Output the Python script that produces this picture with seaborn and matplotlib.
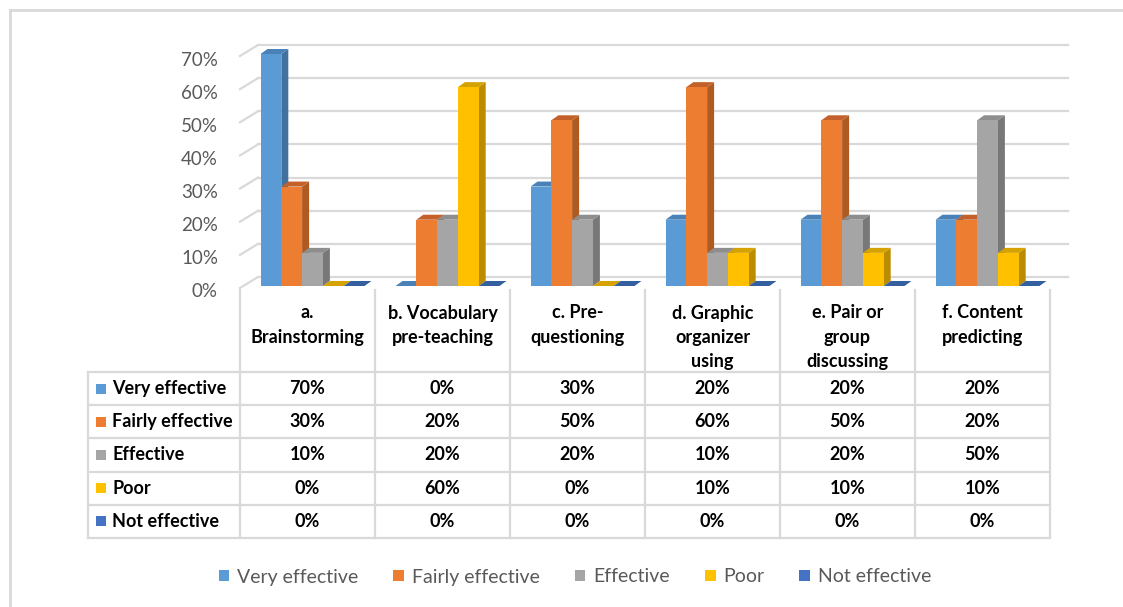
import numpy as np
import pandas as pd
import matplotlib
matplotlib.use("Agg")
import matplotlib.pyplot as plt
import seaborn as sns
from matplotlib.lines import Line2D
from matplotlib.patches import Polygon, Rectangle, Patch
from matplotlib.transforms import ScaledTranslation, IdentityTransform

# ---------------- data ----------------
categories = ["a.\nBrainstorming", "b. Vocabulary\npre-teaching", "c. Pre-\nquestioning",
              "d. Graphic\norganizer\nusing", "e. Pair or\ngroup\ndiscussing",
              "f. Content\npredicting"]
series = ["Very effective", "Fairly effective", "Effective", "Poor", "Not effective"]
very_effective = [70, 0, 30, 20, 20, 20]
fairly_effective = [30, 20, 50, 60, 50, 20]
effective = [10, 20, 20, 10, 20, 50]
poor = [0, 60, 0, 10, 10, 10]
not_effective = [0, 0, 0, 0, 0, 0]
y_ticks = [0, 10, 20, 30, 40, 50, 60, 70]

values = [very_effective, fairly_effective, effective, poor, not_effective]

front_colors = ["#5B9BD5", "#ED7D31", "#A5A5A5", "#FFC000", "#4472C4"]
side_colors = ["#41719C", "#AE5A21", "#787878", "#BC8C00", "#2F528F"]
top_colors = ["#4A82B8", "#C4612A", "#8E8E8E", "#D6A200", "#35609F"]

df = pd.DataFrame({
    "category": np.repeat(categories, 1).tolist() * len(series),
    "series": [s for s in series for _ in categories],
    "value": [v for vals in values for v in vals],
})

# ---------------- figure ----------------
W, H = 1123, 607
fig = plt.figure(figsize=(W / 100, H / 100), dpi=100)
fig.patch.set_facecolor("white")

def fx(px):
    return px / W

def fy(py):
    return 1 - py / H

GRID = "#D9D9D9"
TXT = "#595959"
FONT = "Lato"

# axes (front plane of the 3D plot)
ax_l, ax_r, ax_b, ax_t = 245, 1055, 286, 54
ax = fig.add_axes([fx(ax_l), fy(ax_b), fx(ax_r - ax_l), (ax_b - ax_t) / H])
ax.set_facecolor("none")

sns.barplot(data=df, x="category", y="value", hue="series", hue_order=series,
            order=categories, palette=front_colors, width=0.77, gap=0,
            saturation=1, legend=False, ax=ax, linewidth=0, errorbar=None, zorder=3)
ax.set_xlim(-0.5, len(categories) - 0.5)
ax.set_ylim(0, 70)
for s in ax.spines.values():
    s.set_visible(False)
ax.set_xticks([])
ax.set_yticks([])
ax.set_xlabel("")
ax.set_ylabel("")

# pixel scales
px_x = (ax_r - ax_l) / len(categories)
px_y = (ax_b - ax_t) / 70.0
ddx = 7 / px_x
ddy = 5 / px_y

# 3D faces for bars
for i, cont in enumerate(ax.containers):
    for bar in cont:
        bar.set_clip_on(False)
        bar.set_zorder(3)
        x0 = bar.get_x()
        w = bar.get_width()
        h = bar.get_height()
        side = Polygon([(x0 + w, 0), (x0 + w + ddx, ddy), (x0 + w + ddx, h + ddy), (x0 + w, h)],
                       closed=True, facecolor=side_colors[i], edgecolor="none",
                       zorder=2, clip_on=False)
        top = Polygon([(x0, h), (x0 + w, h), (x0 + w + ddx, h + ddy), (x0 + ddx, h + ddy)],
                      closed=True, facecolor=top_colors[i], edgecolor="none",
                      zorder=2.5, clip_on=False)
        ax.add_patch(side)
        ax.add_patch(top)

# back wall gridlines and left wall diagonals
back_off = ax.transData + ScaledTranslation(13 / 100, 9 / 100, fig.dpi_scale_trans)
for v in y_ticks:
    ax.plot([-0.5, len(categories) - 0.5], [v, v], color=GRID, lw=1.6,
            transform=back_off, zorder=1, clip_on=False)
fig.canvas.draw()
for v in y_ticks:
    px, py = ax.transData.transform((-0.5, v))
    fig.add_artist(Line2D([px - 5, px + 13], [py - 2, py + 9], color=GRID, lw=1.6,
                          transform=IdentityTransform()))
    ax.text(-0.5, v, f"{v}%", transform=ax.transData + ScaledTranslation(-27 / 100, -6 / 100, fig.dpi_scale_trans),
            ha="right", va="center", fontsize=13.5, color=TXT, family=FONT)

# ---------------- data table ----------------
tab_left, col0, tab_right = 88, 240, 1050
col_w = (tab_right - col0) / len(categories)
head_top, rows_top, rows_bot = 290, 372, 538
row_h = (rows_bot - rows_top) / len(series)

def hline(x0, x1, y):
    fig.add_artist(Line2D([fx(x0), fx(x1)], [fy(y), fy(y)], color=GRID, lw=1.6,
                          transform=fig.transFigure))

def vline(x, y0, y1):
    fig.add_artist(Line2D([fx(x), fx(x)], [fy(y0), fy(y1)], color=GRID, lw=1.6,
                          transform=fig.transFigure))

for k in range(len(series) + 1):
    hline(tab_left, tab_right, rows_top + k * row_h)
vline(tab_left, rows_top, rows_bot)
for j in range(len(categories) + 1):
    vline(col0 + j * col_w, head_top, rows_bot)

for j, cat in enumerate(categories):
    cx = col0 + (j + 0.5) * col_w
    for li, line in enumerate(cat.split("\n")):
        fig.text(fx(cx), fy(313 + li * 24.5), line, ha="center", va="center",
                 fontsize=13, fontweight="bold", color="#000000", family=FONT)

for i, s in enumerate(series):
    cy = rows_top + (i + 0.5) * row_h
    fig.add_artist(Rectangle((fx(96), fy(cy + 5)), fx(10), 10 / H, facecolor=front_colors[i],
                             edgecolor="none", transform=fig.transFigure))
    fig.text(fx(112), fy(cy), s, ha="left", va="center", fontsize=13,
             fontweight="bold", color="#000000", family=FONT)
    for j in range(len(categories)):
        cx = col0 + (j + 0.5) * col_w
        fig.text(fx(cx), fy(cy), f"{values[i][j]}%", ha="center", va="center",
                 fontsize=13, fontweight="bold", color="#000000", family=FONT)

# ---------------- legend ----------------
handles = [Patch(facecolor=c, edgecolor="none") for c in front_colors]
leg = fig.legend(handles, series, ncol=5, loc="center", bbox_to_anchor=(fx(575), fy(577)),
                 frameon=False, prop={"family": FONT, "size": 14}, labelcolor=TXT,
                 handlelength=0.55, handleheight=0.55, handletextpad=0.4,
                 columnspacing=1.8)

# outer chart border
fig.add_artist(Line2D([fx(10), fx(10)], [fy(10), fy(H)], color=GRID, lw=2, transform=fig.transFigure))
fig.add_artist(Line2D([fx(10), fx(W)], [fy(10), fy(10)], color=GRID, lw=2, transform=fig.transFigure))

fig.savefig("out.png", dpi=100, facecolor="white")
